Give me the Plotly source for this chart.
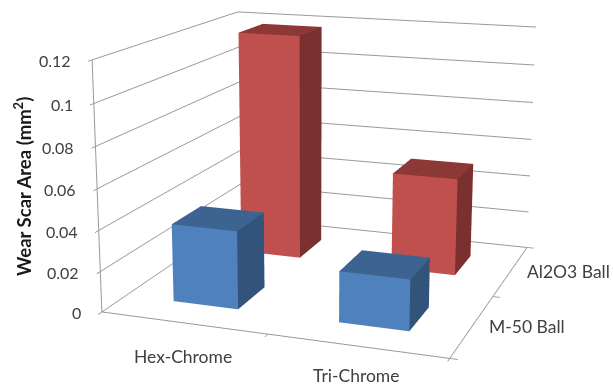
import plotly.graph_objects as go

# Chart data
coatings = ["Hex-Chrome", "Tri-Chrome"]
balls = ["M-50 Ball", "Al2O3 Ball"]
m50_values = [0.0385, 0.0247]
al2o3_values = [0.118, 0.0504]
z_ticks = [0, 0.02, 0.04, 0.06, 0.08, 0.1, 0.12]
z_tick_text = ["0", "0.02", "0.04", "0.06", "0.08", "0.1", "0.12"]

# Page geometry: the figure is taller than the window so the lens is long,
# and the page offset brings the chart's region into view.
FIG_W, FIG_H = 618, 1141
PAGE_TOP = -406
BAR_HALF = 0.2
COATING_LABEL_DROP = [-34, -30]

INK = "#404040"
AXIS = "#999999"
BLUE = {"front": "#4F81BD", "top": "#3D6390", "side": "#32537A"}
RED = {"front": "#C0504D", "top": "#8C3836", "side": "#7A302E"}


def bar(ix, iy, value, shades):
    """One box standing on the floor, as a mesh with a colour per face."""
    x0, x1 = ix + 0.5 - BAR_HALF, ix + 0.5 + BAR_HALF
    y0, y1 = iy + 0.5 - BAR_HALF, iy + 0.5 + BAR_HALF
    xs = [x0, x1, x1, x0, x0, x1, x1, x0]
    ys = [y0, y0, y1, y1, y0, y0, y1, y1]
    zs = [0, 0, 0, 0, value, value, value, value]
    i = [0, 0, 4, 4, 1, 1, 3, 3, 0, 0, 2, 2]
    j = [1, 5, 5, 6, 2, 6, 0, 4, 1, 2, 3, 7]
    k = [5, 4, 6, 7, 6, 5, 4, 7, 2, 3, 7, 6]
    colours = [shades["front"]] * 2 + [shades["top"]] * 2 + [shades["side"]] * 2 \
        + [shades["front"]] * 2 + [shades["side"]] * 2 + [shades["front"]] * 2
    return go.Mesh3d(
        x=xs, y=ys, z=zs, i=i, j=j, k=k, facecolor=colours, flatshading=True,
        lighting=dict(ambient=1, diffuse=0, specular=0, fresnel=0, roughness=1),
        hoverinfo="skip", showscale=False,
    )


fig = go.Figure()
for ix, v in enumerate(al2o3_values):
    fig.add_trace(bar(ix, 1, v, RED))
for ix, v in enumerate(m50_values):
    fig.add_trace(bar(ix, 0, v, BLUE))


def axis(rng, tickvals, grid):
    return dict(
        range=rng, autorange=False, tickvals=tickvals, showticklabels=False,
        title=dict(text=""), showbackground=False, showspikes=False, zeroline=False,
        showgrid=grid, gridcolor=AXIS, gridwidth=2,
        showline=True, linecolor=AXIS, linewidth=2,
        ticks="outside", ticklen=6, tickcolor=AXIS, tickwidth=2,
    )


value_font = dict(family="Lato, Carlito, sans-serif", size=16, color=INK)
label_font = dict(family="Lato, Carlito, sans-serif", size=17.5, color=INK)
notes = [
    dict(x=0, y=0, z=v, text=t, showarrow=False, xanchor="right", yanchor="middle",
         xshift=-19, yshift=-1, font=value_font)
    for v, t in zip(z_ticks, z_tick_text)
]
notes += [
    dict(x=ix + 0.5, y=0, z=0, text=c, showarrow=False, xanchor="center",
         yanchor="middle", yshift=COATING_LABEL_DROP[ix], font=label_font)
    for ix, c in enumerate(coatings)
]
notes += [
    dict(x=2, y=iy + 0.5, z=0, text=b, showarrow=False, xanchor="left",
         yanchor="middle", xshift=14, yshift=-1, font=label_font)
    for iy, b in enumerate(balls)
]

fig.update_layout(
    width=FIG_W, height=FIG_H, autosize=False,
    margin=dict(l=0, r=0, t=0, b=0),
    paper_bgcolor="white", showlegend=False, hovermode=False,
    scene=dict(
        domain=dict(x=[0, 1], y=[0, 1]),
        xaxis=axis([0, 2], [0, 1, 2], False),
        yaxis=axis([0, 2], [0, 1, 2], False),
        zaxis=axis([0, 0.12], z_ticks, True),
        aspectmode="manual",
        aspectratio=dict(x=0.9875, y=0.9875, z=0.705),
        camera=dict(
            eye=dict(x=1.2739, y=-3.6738, z=0.9703),
            center=dict(x=-0.0539, y=-0.0286, z=-0.0043),
            up=dict(x=0, y=0, z=1),
            projection=dict(type="perspective"),
        ),
        annotations=notes,
        dragmode=False,
    ),
    annotations=[
        dict(
            text="<b>Wear Scar Area (mm<sup>2</sup>)</b>",
            xref="paper", yref="paper", showarrow=False, textangle=-90,
            x=22 / FIG_W, y=1 - (187 - PAGE_TOP) / FIG_H,
            xanchor="center", yanchor="middle",
            font=dict(family="Lato, Carlito, sans-serif", size=18.5, color="#1A1A1A"),
        )
    ],
)

shift_page = (
    "var gd=document.getElementById('{plot_id}');"
    "gd.style.position='absolute';gd.style.left='0';"
    f"gd.style.top='{PAGE_TOP}px';"
    "document.documentElement.style.overflow='hidden';"
    "document.body.style.overflow='hidden';"
)
fig.write_html(
    "out.html", config=dict(displayModeBar=False),
    default_width=f"{FIG_W}px", default_height=f"{FIG_H}px", post_script=shift_page,
)
